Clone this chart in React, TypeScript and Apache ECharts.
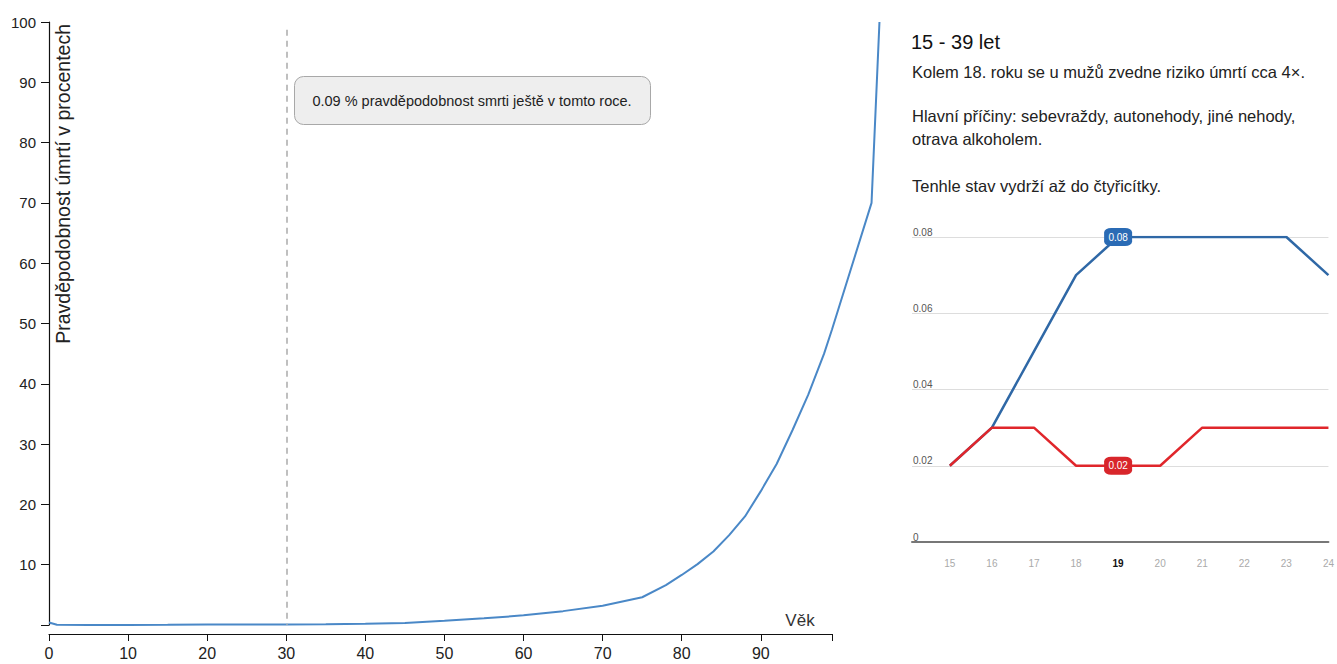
import React, { useEffect, useRef } from "react";
import * as echarts from "echarts";

// Main chart: probability of death within the year (%) by age
const ages = [0, 1, 5, 10, 15, 20, 25, 30, 35, 40, 45, 50, 55, 60, 65, 70, 75, 78, 80, 82, 84, 86, 88, 90, 92, 94, 96, 98, 99, 104, 105];
const deathProb = [0.4, 0.05, 0.02, 0.02, 0.04, 0.08, 0.08, 0.09, 0.13, 0.2, 0.35, 0.7, 1.1, 1.6, 2.3, 3.2, 4.6, 6.6, 8.3, 10.1, 12.2, 14.9, 18.0, 22.2, 26.7, 32.3, 38.2, 45, 49, 70, 100];
const xTickValues = [0, 10, 20, 30, 40, 50, 60, 70, 80, 90];
const xAxisEnd = 99;
const dataAgeEnd = 105;
const yTickValues = [0, 10, 20, 30, 40, 50, 60, 70, 80, 90, 100];
const highlightAge = 30;

// Detail chart: ages 15-24
const detailAges = [15, 16, 17, 18, 19, 20, 21, 22, 23, 24];
const menRisk = [0.02, 0.03, 0.05, 0.07, 0.08, 0.08, 0.08, 0.08, 0.08, 0.07];
const womenRisk = [0.02, 0.03, 0.03, 0.02, 0.02, 0.02, 0.03, 0.03, 0.03, 0.03];
const badgeAge = 19;

// Texts
const yAxisTitle = "Pravděpodobnost úmrtí v procentech";
const xAxisTitle = "Věk";
const panelTitle = "15 - 39 let";
const panelLines = [
  "Kolem 18. roku se u mužů zvedne riziko úmrtí cca 4×.",
  "Hlavní příčiny: sebevraždy, autonehody, jiné nehody,",
  "otrava alkoholem.",
  "Tenhle stav vydrží až do čtyřicítky.",
];

const FONT = "'Liberation Sans', Arial, sans-serif";

export default function App() {
  const ref = useRef<HTMLDivElement>(null);

  useEffect(() => {
    if (!ref.current) return;
    const chart = echarts.init(ref.current, null, { renderer: "svg" });

    const mainData = ages.map((a, i) => [a, deathProb[i]]);
    const hiIdx = ages.indexOf(highlightAge);
    const tooltipText = `${deathProb[hiIdx]} % pravděpodobnost smrti ještě v tomto roce.`;

    const badgeIdx = detailAges.indexOf(badgeAge);
    const badge = (vals: number[], color: string) => ({
      silent: true,
      symbol: "roundRect",
      symbolSize: [28, 18],
      itemStyle: { color },
      label: {
        show: true,
        position: "inside",
        color: "#fff",
        fontSize: 10,
        fontFamily: FONT,
        formatter: (p: any) => Number(p.value).toFixed(2),
      },
      data: [{ coord: [badgeAge, vals[badgeIdx]], value: vals[badgeIdx] }],
    });

    const panelYs = [72, 116, 139, 186];
    const plotLeft = 49;
    const plotWidth = 783;
    const pxPerYear = plotWidth / xAxisEnd;

    const option: any = {
      animation: false,
      textStyle: { fontFamily: FONT },
      grid: [
        { left: plotLeft, top: 22, width: plotWidth, height: 603, containLabel: false },
        { left: 912, top: 237, width: 421, height: 305, containLabel: false },
        { left: plotLeft, top: 22, width: pxPerYear * dataAgeEnd, height: 603, containLabel: false },
      ],
      xAxis: [
        {
          gridIndex: 0,
          type: "value",
          min: 0,
          max: xAxisEnd,
          interval: 10,
          offset: 9,
          axisLine: { show: true, onZero: false, lineStyle: { color: "#111", width: 1.2 } },
          axisTick: { show: true, length: 7, lineStyle: { color: "#111" }, customValues: [...xTickValues, xAxisEnd] },
          axisLabel: { color: "#222", fontSize: 16, margin: 11, customValues: xTickValues, fontFamily: FONT },
          splitLine: { show: false },
        },
        {
          gridIndex: 1,
          type: "value",
          min: 14.1,
          max: 24,
          axisLine: { show: true, onZero: true, lineStyle: { color: "#777", width: 2 } },
          axisTick: { show: false },
          axisLabel: {
            customValues: detailAges,
            margin: 16,
            fontSize: 10,
            color: "#aaa",
            fontFamily: FONT,
            formatter: (v: number) => (v === badgeAge ? `{b|${v}}` : `${v}`),
            rich: { b: { fontWeight: "bold", color: "#111", fontSize: 10, fontFamily: FONT } },
          },
          splitLine: { show: false },
        },
        {
          gridIndex: 2,
          type: "value",
          min: 0,
          max: dataAgeEnd,
          show: false,
        },
      ],
      yAxis: [
        {
          gridIndex: 0,
          type: "value",
          min: 0,
          max: 100,
          interval: 10,
          axisLine: { show: true, lineStyle: { color: "#111", width: 1.2 } },
          axisTick: { show: true, length: 8, lineStyle: { color: "#111" }, customValues: yTickValues },
          axisLabel: {
            color: "#222",
            fontSize: 15,
            margin: 13,
            fontFamily: FONT,
            formatter: (v: number) => (v === 0 ? "" : `${v}`),
          },
          splitLine: { show: false },
        },
        {
          gridIndex: 1,
          type: "value",
          min: 0,
          max: 0.08,
          interval: 0.02,
          axisLine: { show: false },
          axisTick: { show: false },
          axisLabel: {
            inside: true,
            margin: 1,
            verticalAlign: "bottom",
            fontSize: 10,
            color: "#555",
            fontFamily: FONT,
            formatter: (v: number) => (v === 0 ? "0" : v.toFixed(2)),
          },
          splitLine: { show: true, lineStyle: { color: "#ddd", width: 1 } },
        },
        {
          gridIndex: 2,
          type: "value",
          min: 0,
          max: 100,
          show: false,
        },
      ],
      series: [
        {
          type: "line",
          xAxisIndex: 2,
          yAxisIndex: 2,
          data: mainData,
          showSymbol: false,
          symbol: "none",
          lineStyle: { color: "#4a88c7", width: 2 },
          markLine: {
            silent: true,
            symbol: "none",
            label: { show: false },
            lineStyle: { color: "#aaa", type: [6, 5], width: 1.5 },
            data: [[{ coord: [highlightAge, 98.7] }, { coord: [highlightAge, 0] }]],
          },
        },
        {
          type: "line",
          xAxisIndex: 1,
          yAxisIndex: 1,
          data: detailAges.map((a, i) => [a, menRisk[i]]),
          symbol: "none",
          showSymbol: false,
          lineStyle: { color: "#2f68a6", width: 2.5 },
          z: 3,
          markPoint: badge(menRisk, "#2a6bb5"),
        },
        {
          type: "line",
          xAxisIndex: 1,
          yAxisIndex: 1,
          data: detailAges.map((a, i) => [a, womenRisk[i]]),
          symbol: "none",
          showSymbol: false,
          lineStyle: { color: "#e0262b", width: 2.5 },
          z: 4,
          markPoint: badge(womenRisk, "#d8262b"),
        },
      ],
      graphic: [
        {
          type: "text",
          x: 63,
          y: 24,
          rotation: Math.PI / 2,
          style: {
            text: yAxisTitle,
            fontSize: 19.5,
            fontFamily: FONT,
            fill: "#222",
            align: "right",
            verticalAlign: "middle",
          },
        },
        {
          type: "text",
          x: 800,
          y: 620,
          style: {
            text: xAxisTitle,
            fontSize: 17,
            fontFamily: FONT,
            fill: "#333",
            align: "center",
            verticalAlign: "middle",
          },
        },
        {
          type: "rect",
          shape: { x: 294.5, y: 76.5, width: 356, height: 48, r: 9 },
          style: { fill: "#eeeeee", stroke: "#a8a8a8", lineWidth: 1 },
          z: 10,
        },
        {
          type: "text",
          x: 472,
          y: 101,
          z: 11,
          style: {
            text: tooltipText,
            fontSize: 14.5,
            fontFamily: FONT,
            fill: "#222",
            align: "center",
            verticalAlign: "middle",
          },
        },
        {
          type: "text",
          x: 911,
          y: 42,
          style: {
            text: panelTitle,
            fontSize: 20,
            fontFamily: FONT,
            fill: "#111",
            align: "left",
            verticalAlign: "middle",
          },
        },
        ...panelLines.map((t, i) => ({
          type: "text",
          x: 912,
          y: panelYs[i],
          style: {
            text: t,
            fontSize: 16.5,
            fontFamily: FONT,
            fill: "#222",
            align: "left",
            verticalAlign: "middle",
          },
        })),
      ],
    };

    chart.setOption(option);
    return () => chart.dispose();
  }, []);

  return (
    <div
      ref={ref}
      style={{ position: "absolute", left: 0, top: 0, width: 1337, height: 664, background: "#fff" }}
    />
  );
}
